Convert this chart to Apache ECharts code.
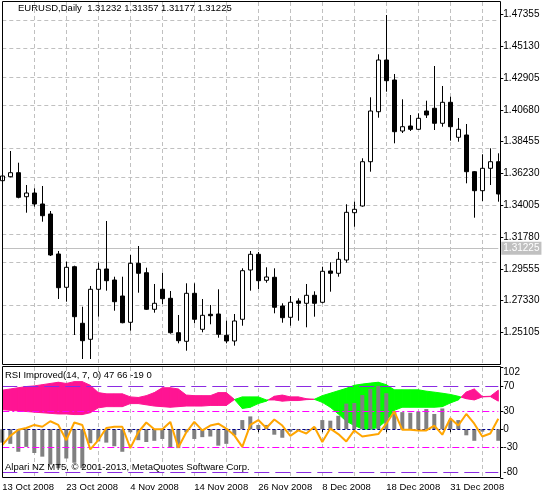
<!DOCTYPE html>
<html><head><meta charset="utf-8">
<script src="https://cdn.jsdelivr.net/npm/echarts@6/dist/echarts.min.js"></script>
<style>html,body{margin:0;padding:0;background:#fff}#c{width:549px;height:495px}</style>
</head><body><div id="c"></div>
<script>
const categories = ["13 Oct 2008","14 Oct 2008","15 Oct 2008","16 Oct 2008","17 Oct 2008","20 Oct 2008","21 Oct 2008","22 Oct 2008","23 Oct 2008","24 Oct 2008","27 Oct 2008","28 Oct 2008","29 Oct 2008","30 Oct 2008","31 Oct 2008","3 Nov 2008","4 Nov 2008","5 Nov 2008","6 Nov 2008","7 Nov 2008","10 Nov 2008","11 Nov 2008","12 Nov 2008","13 Nov 2008","14 Nov 2008","17 Nov 2008","18 Nov 2008","19 Nov 2008","20 Nov 2008","21 Nov 2008","24 Nov 2008","25 Nov 2008","26 Nov 2008","27 Nov 2008","28 Nov 2008","1 Dec 2008","2 Dec 2008","3 Dec 2008","4 Dec 2008","5 Dec 2008","8 Dec 2008","9 Dec 2008","10 Dec 2008","11 Dec 2008","12 Dec 2008","15 Dec 2008","16 Dec 2008","17 Dec 2008","18 Dec 2008","19 Dec 2008","22 Dec 2008","23 Dec 2008","24 Dec 2008","26 Dec 2008","29 Dec 2008","30 Dec 2008","31 Dec 2008","2 Jan 2009","5 Jan 2009","6 Jan 2009","7 Jan 2009","8 Jan 2009","9 Jan 2009"];

const openP = [1.35725,1.36005,1.36286,1.34604,1.34863,1.34093,1.33392,1.30590,1.28257,1.29700,
1.25735,1.24614,1.28117,1.29539,1.28768,1.27647,1.25805,1.29938,1.29279,1.26715,
1.28117,1.27486,1.25076,1.24474,1.27836,1.25314,1.26365,1.26386,1.24894,1.24495,
1.26015,1.29469,1.30569,1.28747,1.28958,1.26947,1.26155,1.27297,1.27136,1.27696,
1.27206,1.29399,1.29238,1.30169,1.33483,1.33953,1.37056,1.40559,1.44181,1.42780,
1.39207,1.39557,1.39326,1.40608,1.40798,1.39747,1.41218,1.38766,1.38927,1.36356,
1.35025,1.36594,1.37056];
const closeP = [1.36054,1.36286,1.34562,1.34863,1.34093,1.33273,1.30520,1.28229,1.29658,1.26197,
1.24516,1.28117,1.29518,1.28719,1.27248,1.25777,1.29938,1.29238,1.26715,1.27136,
1.27458,1.25076,1.24516,1.27836,1.26015,1.26295,1.26267,1.24964,1.24495,1.25896,
1.29420,1.30569,1.28719,1.28979,1.26856,1.26127,1.27206,1.27136,1.27696,1.27136,
1.29378,1.29238,1.30218,1.33511,1.33721,1.37056,1.40608,1.44181,1.42731,1.39158,
1.39508,1.39326,1.40097,1.40328,1.39747,1.41218,1.39508,1.39326,1.36356,1.35025,
1.36594,1.37056,1.34793];
const lowP = [1.35599,1.35963,1.34492,1.33483,1.33904,1.32853,1.30450,1.27437,1.27248,1.24915,
1.23233,1.23233,1.26197,1.28019,1.26617,1.25735,1.25216,1.27878,1.26666,1.26477,
1.27087,1.25006,1.24333,1.23815,1.25735,1.25104,1.25664,1.24726,1.24333,1.24165,
1.25566,1.28019,1.28138,1.28579,1.26435,1.25777,1.25566,1.25917,1.25454,1.26197,
1.27136,1.27949,1.28999,1.29980,1.32502,1.33904,1.36356,1.40139,1.41961,1.38345,
1.39067,1.39207,1.39277,1.40118,1.39277,1.39508,1.38528,1.38457,1.35543,1.33133,
1.34303,1.35424,1.34254];
const highP = [1.36335,1.37806,1.36986,1.35424,1.35193,1.35354,1.33602,1.30800,1.30050,1.29770,
1.26898,1.28348,1.29980,1.32902,1.28999,1.28999,1.30520,1.31150,1.29630,1.28488,
1.29279,1.27998,1.26316,1.28537,1.28537,1.27437,1.27017,1.28117,1.25917,1.26386,
1.29588,1.30800,1.30730,1.29658,1.29588,1.27136,1.27647,1.27486,1.28488,1.27976,
1.29700,1.30008,1.30730,1.34072,1.34254,1.37295,1.41568,1.44581,1.47334,1.43201,
1.41428,1.40328,1.40447,1.41330,1.43761,1.42360,1.41610,1.40118,1.39698,1.36400,
1.37575,1.37995,1.37645];

const priceTicks = [1.47355,1.45130,1.42905,1.40680,1.38455,1.36230,1.34005,1.31780,1.29555,1.27330,1.25105];
const lastPrice = 1.31225;
const priceRange = [1.22883, 1.48245];

const bandA = [32,31,30,29,28,27,26,25,25,24,24,27,35,37,37,37,42,42,40,38,37,36,37,38,38,38,39,39,39,48.5,
53,53,53,48,48,46,47,47,48.5,49,55,59,63,67,72,74,75.6,77,73,64.6,64.6,64.6,64.6,62.4,60.8,59,57,54,50,48,53,53.5,46];
const bandB = [64,66,68,70,71,73,75,77,75,78,78,72,60,58,58,58,53,52,55,60,68,68,66,56,55,55,55,60,60,49,
34,36,42,46,54,56,53,53,50,49,44,36,25,13,6,0.5,0,3,14,31,36,36,36,36,36,37,43,48,61,66,53.5,54,64];
const histVals = [-22,-24,-37,-29,-39,-45,-58,-64,-48,-55,
-64,-23,-20,-22,-28,-37,-5,-18,-21,-19,
-16,-30,-31,-5,-16,-13,-12,-27,-24,-10,
15,21,7,7,-9,-14,-4,-3,-2,3,
15,14,22,42,43,56,66,71,59,29,
28,27,29,33,25,34,15,15,-10,-19,
-4,-2,-19];
const rsiLine = [-26,-11,-1,2,7,4,13,7,-18,11,
7,-33,-18,2,4,4,-31,-5,11,0,
0,12,-30,-5,12,-2,6,9,1,-10,
-29,7,15,2,16,6,-11,-2,-7,4,
-21,1,-8,-20,-2,-12,-10,-8,9,29,
-1,-1,-2,-2,6,-9,18,6,25,9,
-12,-7,17];
const levelValues = [70,30,0,-30,-70];
const indTicks = [102,70,30,0,-30,-70,-80];
const indRange = [-80, 102];

const mainTitle = "EURUSD,Daily  1.31232 1.31357 1.31177 1.31225";
const indTitle = "RSI Improved(14, 7, 0) 47 66 -19 0";
const footer = "Alpari NZ MT5, \u00A9 2001-2013, MetaQuotes Software Corp.";

const FONT = '"Liberation Sans", Arial, sans-serif';
const GRIDC = '#C0C0C0';
const GREEN = '#00FF00', PINK = '#FF1493';

function levelStyle(v) {
  if (Math.abs(v) === 70) return {color:'#8A2BE2', type:[15,6], width:1};
  if (Math.abs(v) === 30) return {color:'#FF00FF', type:[7,3,2,3], width:1};
  return {color:'#00008B', type:[3,2], width:1};
}

const chart = echarts.init(document.getElementById('c'), null, {renderer:'canvas'});
const option = {
  animation: false,
  backgroundColor: '#FFFFFF',
  grid: [
    {left: 2.3, top: 2, width: 496, height: 362, containLabel: false, outerBoundsMode: 'none'},
    {left: 2.3, top: 367, width: 496, height: 111, containLabel: false, outerBoundsMode: 'none'}
  ],
  xAxis: [
    {gridIndex:0, type:'category', data: categories, boundaryGap:false,
     axisLine:{show:false}, axisTick:{show:false}, axisLabel:{show:false},
     splitLine:{show:true, interval:3, lineStyle:{color:GRIDC, type:[4,3], width:1}}},
    {gridIndex:1, type:'category', data: categories, boundaryGap:false,
     axisLine:{show:false},
     axisTick:{show:true, interval:7, length:3, lineStyle:{color:'#000'}},
     axisLabel:{show:true, interval:7, align:'left', margin:4, color:'#000', fontSize:9.5, fontFamily:FONT, hideOverlap:false},
     splitLine:{show:true, interval:3, lineStyle:{color:GRIDC, type:[4,3], width:1}}}
  ],
  yAxis: [
    {gridIndex:0, type:'value', position:'right', offset:2, min:priceRange[0], max:priceRange[1],
     axisLine:{show:false}, splitLine:{show:false},
     axisTick:{show:true, length:3, customValues: priceTicks, lineStyle:{color:'#000'}},
     axisLabel:{show:true, customValues: priceTicks, margin:3, color:'#000', fontSize:10, fontFamily:FONT,
       formatter: v => Number(v).toFixed(5)}},
    {gridIndex:1, type:'value', position:'right', offset:2, min:indRange[0], max:indRange[1],
     axisLine:{show:false}, splitLine:{show:false},
     axisTick:{show:true, length:3, customValues: indTicks, lineStyle:{color:'#000'}},
     axisLabel:{show:true, customValues: indTicks, margin:3, color:'#000', fontSize:10, fontFamily:FONT,
       showMinLabel:true, showMaxLabel:true, hideOverlap:false,
       formatter: v => (v === indRange[1] ? '{t|' + v + '}' : (v === indRange[0] ? '{b|' + v + '}' : String(v))),
       rich: {
         t: {padding:[11,0,0,0], color:'#000', fontSize:10, fontFamily:FONT},
         b: {padding:[0,0,11,0], color:'#000', fontSize:10, fontFamily:FONT}
       }}}
  ],
  series: [
    {
      type:'line', xAxisIndex:0, yAxisIndex:0, z:1, silent:true, showSymbol:false,
      data: categories.map(() => null),
      markLine: {
        silent:true, symbol:['none','none'], z:1, animation:false,
        label:{show:false},
        data: priceTicks.map(v => ({yAxis:v, lineStyle:{color:GRIDC, type:[4,3], width:1}})).concat([
          {yAxis:lastPrice, lineStyle:{color:GRIDC, type:'solid', width:1},
           label:{show:true, position:'end', distance:3, formatter: lastPrice.toFixed(5),
             color:'#FFFFFF', backgroundColor:GRIDC, padding:[2,2,1,2], fontSize:10, fontFamily:FONT}}
        ])
      }
    },
    {
      type:'candlestick', xAxisIndex:0, yAxisIndex:0, z:3, clip:true, barWidth:5,
      data: categories.map((c,i) => [openP[i], closeP[i], lowP[i], highP[i]]),
      itemStyle:{color:'#FFFFFF', color0:'#000000', borderColor:'#000000', borderColor0:'#000000', borderWidth:1}
    },
    {
      type:'custom', xAxisIndex:1, yAxisIndex:1, z:1, clip:true, silent:true,
      data: categories.map((c,i) => [i, bandA[i], bandB[i]]),
      encode:{x:0, y:[1,2]},
      renderItem: function(params, api) {
        const i = params.dataIndex;
        if (i >= categories.length - 1) return {type:'group', children:[]};
        const a0 = bandA[i], b0 = bandB[i], a1 = bandA[i+1], b1 = bandB[i+1];
        const PA0 = api.coord([i, a0]), PB0 = api.coord([i, b0]);
        const PA1 = api.coord([i+1, a1]), PB1 = api.coord([i+1, b1]);
        const d0 = a0 - b0, d1 = a1 - b1;
        const poly = (pts, col) => ({type:'polygon', shape:{points:pts}, style:{fill:col, stroke:col, lineWidth:1}});
        const ch = [];
        if (d0 * d1 < 0) {
          const t = d0 / (d0 - d1);
          const C = [PA0[0] + t * (PA1[0] - PA0[0]), PA0[1] + t * (PA1[1] - PA0[1])];
          ch.push(poly([PA0, C, PB0], d0 > 0 ? GREEN : PINK));
          ch.push(poly([C, PA1, PB1], d1 > 0 ? GREEN : PINK));
        } else {
          ch.push(poly([PA0, PA1, PB1, PB0], (d0 + d1) > 0 ? GREEN : PINK));
        }
        return {type:'group', children:ch};
      }
    },
    {
      type:'bar', xAxisIndex:1, yAxisIndex:1, z:2, barWidth:4, silent:true,
      data: histVals, itemStyle:{color:'#808080'},
      markLine: {
        silent:true, symbol:['none','none'], z:3, animation:false, label:{show:false},
        data: levelValues.map(v => ({yAxis:v, lineStyle: levelStyle(v)}))
      }
    },
    {
      type:'line', xAxisIndex:1, yAxisIndex:1, z:5, silent:true, showSymbol:false, symbol:'none',
      data: rsiLine, lineStyle:{color:'#FFA500', width:2}, itemStyle:{color:'#FFA500'}
    }
  ],
  graphic: [
    {type:'rect', silent:true, z:100, shape:{x:2.5, y:1.5, width:498, height:363}, style:{fill:'transparent', stroke:'#000', lineWidth:1}},
    {type:'rect', silent:true, z:100, shape:{x:2.5, y:366.5, width:498, height:111}, style:{fill:'transparent', stroke:'#000', lineWidth:1}},
    {type:'text', silent:true, z:100, x:18, y:8.5, style:{text:mainTitle, fill:'#000', fontSize:9.5, fontFamily:FONT, verticalAlign:'middle', align:'left'}},
    {type:'text', silent:true, z:100, x:5, y:375, style:{text:indTitle, fill:'#000', fontSize:9.5, fontFamily:FONT, verticalAlign:'middle', align:'left'}},
    {type:'text', silent:true, z:100, x:5, y:467, style:{text:footer, fill:'#000', fontSize:9.5, fontFamily:FONT, verticalAlign:'middle', align:'left'}}
  ]
};
chart.setOption(option);
</script>
</body></html>
